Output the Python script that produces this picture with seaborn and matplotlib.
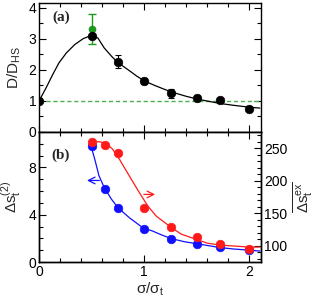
import numpy as np
import pandas as pd
import matplotlib
matplotlib.use("Agg")
import matplotlib.pyplot as plt
from matplotlib.ticker import MultipleLocator
import seaborn as sns

# panel (a): diffusion ratio
x_a = [0, 0.5, 0.75, 1.0, 1.25, 1.5, 1.72, 2.0]
d_ratio = [1.0, 3.1, 2.27, 1.65, 1.25, 1.11, 1.03, 0.74]
d_err = [0, 0.05, 0.2, 0.1, 0.15, 0.08, 0.07, 0]
x_green = [0.5]
d_green = [3.31]
d_green_err = [0.48]
fit_a_x = [0, 0.067, 0.13, 0.19, 0.26, 0.34, 0.42, 0.5, 0.56, 0.62, 0.69, 0.74,
           0.8, 0.87, 0.93, 1.0, 1.1, 1.25, 1.4, 1.52, 1.72, 1.85, 2.0, 2.1]
fit_a_y = [1.0, 1.42, 1.85, 2.23, 2.55, 2.82, 3.01, 3.12, 3.03, 2.71, 2.44, 2.27,
           2.12, 1.95, 1.8, 1.65, 1.5, 1.3, 1.15, 1.05, 0.92, 0.86, 0.8, 0.77]

# panel (b): entropy measures
x_b = [0.5, 0.625, 0.75, 1.0, 1.25, 1.5, 1.72, 2.0]
ds2 = [9.85, 6.19, 4.6, 2.76, 1.97, 1.52, 1.24, 1.01]
dsex = [259.3, 255.6, 242.3, 158.3, 128.1, 114.2, 102.8, 94.6]
fit_blue_x = [0.495, 0.53, 0.57, 0.62, 0.69, 0.75, 0.86, 0.99, 1.08, 1.15, 1.25,
              1.38, 1.52, 1.72, 1.85, 2.0, 2.1]
fit_blue_y = [9.8, 8.7, 7.3, 6.3, 5.3, 4.6, 3.74, 2.88, 2.62, 2.35, 2.0,
              1.72, 1.52, 1.22, 1.1, 1.0, 0.93]
fit_red_x = [0.48, 0.575, 0.64, 0.70, 0.765, 0.86, 0.955, 1.035, 1.115, 1.25,
             1.35, 1.52, 1.6, 1.72, 2.0, 2.1]
fit_red_y = [260, 260, 257.5, 248.5, 233, 207, 181.5, 161, 145.5, 129,
             118, 108.5, 104, 101, 98, 98]

sns.set_theme(style="ticks")
plt.rcParams["font.family"] = ["Liberation Sans", "DejaVu Sans"]
plt.rcParams["mathtext.fontset"] = "custom"
plt.rcParams["mathtext.rm"] = "Liberation Sans"
plt.rcParams["mathtext.it"] = "Liberation Sans"

fig = plt.figure(figsize=(3.16, 2.97), dpi=100)
ax_a = fig.add_axes([0.1234, 0.5556, 0.7025, 0.4343])
ax_b = fig.add_axes([0.1234, 0.1178, 0.7025, 0.4377])
ax_r = ax_b.twinx()


def style(ax, right=True, top=True):
    for s in ax.spines.values():
        s.set_linewidth(1.0)
        s.set_color("black")
    ax.tick_params(which="both", direction="in", top=top, right=right,
                   labelsize=10, colors="black", width=0.8, pad=2)
    ax.tick_params(which="major", length=5)
    ax.tick_params(which="minor", length=3)


# top panel
ax_a.axhline(1.0, color="#4cb04c", ls=(0, (3, 2)), lw=1.0)
sns.lineplot(x=fit_a_x, y=fit_a_y, sort=False, color="black", lw=0.9, ax=ax_a)
ax_a.errorbar(x_a, d_ratio, yerr=d_err, fmt="none", ecolor="black",
              elinewidth=0.8, capsize=2.5, capthick=0.8)
ax_a.errorbar(x_green, d_green, yerr=d_green_err, fmt="o", color="#1d9a1d",
              ms=4.5, elinewidth=1.0, capsize=3, capthick=1.0)
sns.scatterplot(x=x_a, y=d_ratio, color="black", s=38, edgecolor="black", ax=ax_a, zorder=5)
ax_a.set_xlim(0, 2.11)
ax_a.set_ylim(0, 4.16)
ax_a.xaxis.set_major_locator(MultipleLocator(1))
ax_a.xaxis.set_minor_locator(MultipleLocator(0.2))
ax_a.yaxis.set_major_locator(MultipleLocator(1))
ax_a.yaxis.set_minor_locator(MultipleLocator(0.5))
ax_a.tick_params(labelbottom=False)
style(ax_a)
ax_a.set_ylabel(r"D/D$_{\rm HS}$", fontsize=11, labelpad=4)
ax_a.text(0.10, 0.89, "(a)", transform=ax_a.transAxes, fontsize=11,
          fontweight="bold", family="Liberation Serif", ha="center", va="center")

# bottom panel
sns.lineplot(x=fit_blue_x, y=fit_blue_y, sort=False, color="#1010ff", lw=0.9, ax=ax_b)
sns.scatterplot(x=x_b, y=ds2, color="#1010ff", s=38, edgecolor="#1010ff", ax=ax_b, zorder=5)
sns.lineplot(x=fit_red_x, y=fit_red_y, sort=False, color="#ff1a1a", lw=0.9, ax=ax_r)
sns.scatterplot(x=x_b, y=dsex, color="#ff1a1a", s=38, edgecolor="#ff1a1a", ax=ax_r, zorder=5)
ax_b.set_xlim(0, 2.11)
ax_b.set_ylim(0, 11)
ax_r.set_ylim(75, 275)
ax_b.xaxis.set_major_locator(MultipleLocator(1))
ax_b.xaxis.set_minor_locator(MultipleLocator(0.2))
ax_b.yaxis.set_major_locator(MultipleLocator(4))
ax_b.yaxis.set_minor_locator(MultipleLocator(1))
ax_r.yaxis.set_major_locator(MultipleLocator(50))
ax_r.yaxis.set_minor_locator(MultipleLocator(10))
style(ax_b, right=False)
style(ax_r, right=True, top=False)
ax_r.tick_params(which="both", left=False, bottom=False)
ax_b.set_xlabel(r"$\sigma$/$\sigma_{\rm t}$", fontsize=11, labelpad=1)
ax_b.set_ylabel(r"$\Delta$s$_{\rm t}^{\rm (2)}$", fontsize=11, labelpad=4)
ax_r.set_ylabel(r"$\overline{\Delta{\rm s}_{\rm t}^{\rm ex}}$", fontsize=11, labelpad=3)
ax_b.text(0.095, 0.82, "(b)", transform=ax_b.transAxes, fontsize=11,
          fontweight="bold", family="Liberation Serif", ha="center", va="center")

ax_b.annotate("", xy=(0.43, 6.9), xytext=(0.6, 6.9),
              arrowprops=dict(arrowstyle="->", color="#1010ff", lw=0.9))
ax_r.annotate("", xy=(1.13, 179), xytext=(0.97, 179),
              arrowprops=dict(arrowstyle="->", color="#ff1a1a", lw=0.9))

fig.savefig("out.png", dpi=100)
